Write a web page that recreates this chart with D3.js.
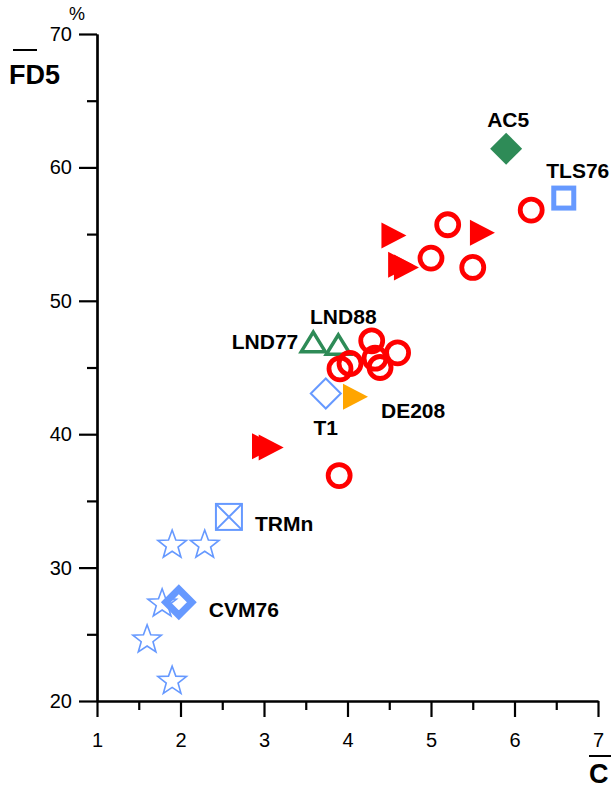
<!DOCTYPE html>
<html><head><meta charset="utf-8">
<script src="https://cdn.jsdelivr.net/npm/d3@7"></script>
<style>
body{margin:0;background:#fff;}
text{font-family:"Liberation Sans",Arial,sans-serif;}
</style></head>
<body><svg id="c" width="616" height="789"></svg>
<script>
// ---- data ----
const xTicks = [1, 2, 3, 4, 5, 6, 7];
const yTicks = [20, 30, 40, 50, 60, 70];
const xMinor = [1.5, 2.5, 3.5, 4.5, 5.5, 6.5];
const yMinor = [25, 35, 45, 55, 65];

const redCircles = [
  [6.2, 56.8], [5.2, 55.7], [5.0, 53.2], [5.5, 52.5],
  [4.29, 47.0], [4.6, 46.1], [3.91, 44.9], [4.03, 45.3], [4.33, 45.7], [4.39, 45.0],
  [3.9, 36.9]
];
const redTriangles = [
  [4.55, 54.9], [4.63, 52.7], [4.7, 52.5], [5.61, 55.1], [3.0, 39.1], [3.08, 39.0]
];
const greenTriangles = [[3.59, 46.9, "LND77"], [3.89, 46.7, "LND88"]];
const stars = [[1.9, 31.8], [2.29, 31.8], [1.78, 27.4], [1.6, 24.7], [1.9, 21.6]];
const pointAC5 = [5.9, 61.4];
const pointTLS76 = [6.59, 57.7];
const pointT1 = [3.74, 43.05];
const pointDE208 = [4.09, 42.8];
const pointTRMn = [2.58, 33.8];
const pointCVM76 = [1.98, 27.4];

// ---- chart ----
const svg = d3.select("#c");
const x = d3.scaleLinear().domain([1, 7]).range([97, 598]);
const y = d3.scaleLinear().domain([20, 70]).range([701, 34]);
const RED = "#ff0000", GREEN = "#2e8b57", BLUE = "#6699ff", ORANGE = "#ffa500";

function styleAxis(g){
  g.selectAll("path,line").attr("stroke","#000").attr("stroke-width",2.2);
  g.selectAll("text").attr("font-size",20).attr("fill","#000")
    .style("font-family","'Liberation Sans',Arial,sans-serif");
}
svg.append("g").attr("transform","translate(0,701)")
  .call(d3.axisBottom(x).tickValues(xTicks).tickSize(16).tickSizeOuter(0).tickPadding(16).tickFormat(d3.format("d")))
  .call(styleAxis);
svg.append("g").attr("transform","translate(0,701)")
  .call(d3.axisBottom(x).tickValues(xMinor).tickSize(9).tickSizeOuter(0).tickFormat(""))
  .call(styleAxis);
svg.append("g").attr("transform","translate(97,0)")
  .call(d3.axisLeft(y).tickValues(yTicks).tickSize(18).tickSizeOuter(0).tickPadding(7).tickFormat(d3.format("d")))
  .call(styleAxis);
svg.append("g").attr("transform","translate(97,0)")
  .call(d3.axisLeft(y).tickValues(yMinor).tickSize(10).tickSizeOuter(0).tickFormat(""))
  .call(styleAxis);

// axis titles
svg.append("text").attr("x",69).attr("y",20).attr("font-size",18).text("%");
svg.append("line").attr("x1",13).attr("x2",37).attr("y1",50).attr("y2",50).attr("stroke","#000").attr("stroke-width",2);
svg.append("text").attr("x",9).attr("y",84).attr("font-size",27).attr("font-weight","bold").text("FD5");
svg.append("line").attr("x1",589).attr("x2",611).attr("y1",756).attr("y2",756).attr("stroke","#000").attr("stroke-width",2);
svg.append("text").attr("x",589).attr("y",783).attr("font-size",27).attr("font-weight","bold").text("C");

const tr = d => `translate(${x(d[0])},${y(d[1])})`;

// stars
const starPath = (() => {
  const pts = [];
  for (let i = 0; i < 10; i++) {
    const r = i % 2 === 0 ? 15 : 6.2;
    const a = -Math.PI/2 + i*Math.PI/5;
    pts.push([r*Math.cos(a), r*Math.sin(a)+1.5]);
  }
  return d3.line()(pts) + "Z";
})();
svg.append("g").selectAll("path").data(stars).join("path")
  .attr("transform", tr).attr("d", starPath)
  .attr("fill","none").attr("stroke",BLUE).attr("stroke-width",1.6);

// CVM76 thick diamond
svg.append("path").attr("transform", tr(pointCVM76))
  .attr("d","M0,-13L13,0L0,13L-13,0Z")
  .attr("fill","none").attr("stroke",BLUE).attr("stroke-width",7).attr("stroke-linejoin","miter");

// TRMn square with X
const gT = svg.append("g").attr("transform", tr(pointTRMn));
gT.append("rect").attr("x",-13).attr("y",-13).attr("width",26).attr("height",26)
  .attr("fill","none").attr("stroke",BLUE).attr("stroke-width",2);
gT.append("path").attr("d","M-13,-13L13,13M13,-13L-13,13").attr("stroke",BLUE).attr("stroke-width",2);

// T1 diamond
svg.append("path").attr("transform", tr(pointT1))
  .attr("d","M0,-15L15,0L0,15L-15,0Z")
  .attr("fill","none").attr("stroke",BLUE).attr("stroke-width",2);

// DE208 orange triangle
const rightTri = "M-12,-13L13,0L-12,13Z";
svg.append("path").attr("transform", tr(pointDE208)).attr("d", rightTri).attr("fill",ORANGE);

// green open triangles
svg.append("g").selectAll("path").data(greenTriangles).join("path")
  .attr("transform", tr).attr("d","M0,-10L12,9.5L-12,9.5Z")
  .attr("fill","none").attr("stroke",GREEN).attr("stroke-width",3.5).attr("stroke-linejoin","miter");

// red triangles
svg.append("g").selectAll("path").data(redTriangles).join("path")
  .attr("transform", tr).attr("d", rightTri).attr("fill",RED);

// red circles
svg.append("g").selectAll("circle").data(redCircles).join("circle")
  .attr("transform", tr).attr("r",11)
  .attr("fill","none").attr("stroke",RED).attr("stroke-width",4.8);

// AC5 diamond
svg.append("path").attr("transform", tr(pointAC5))
  .attr("d","M0,-16L16,0L0,16L-16,0Z").attr("fill",GREEN);

// TLS76 square
svg.append("rect").attr("transform", tr(pointTLS76))
  .attr("x",-10).attr("y",-10).attr("width",20).attr("height",20)
  .attr("fill","none").attr("stroke",BLUE).attr("stroke-width",5);

// labels
const lab = (t, px, py, anchor) => svg.append("text").attr("x",px).attr("y",py)
  .attr("font-size",21).attr("font-weight","bold").attr("text-anchor",anchor||"start").text(t);
lab("AC5", x(pointAC5[0])+2, y(pointAC5[1])-22, "middle");
lab("TLS76", x(pointTLS76[0])+14, y(pointTLS76[1])-20, "middle");
lab("LND88", x(greenTriangles[1][0])+5, y(greenTriangles[1][1])-21, "middle");
lab("LND77", x(greenTriangles[0][0])-15, y(greenTriangles[0][1])+7, "end");
lab("T1", x(pointT1[0]), y(pointT1[1])+41, "middle");
lab("DE208", x(pointDE208[0])+26, y(pointDE208[1])+21, "start");
lab("TRMn", x(pointTRMn[0])+26, y(pointTRMn[1])+14, "start");
lab("CVM76", x(pointCVM76[0])+30, y(pointCVM76[1])+15, "start");
</script></body></html>
